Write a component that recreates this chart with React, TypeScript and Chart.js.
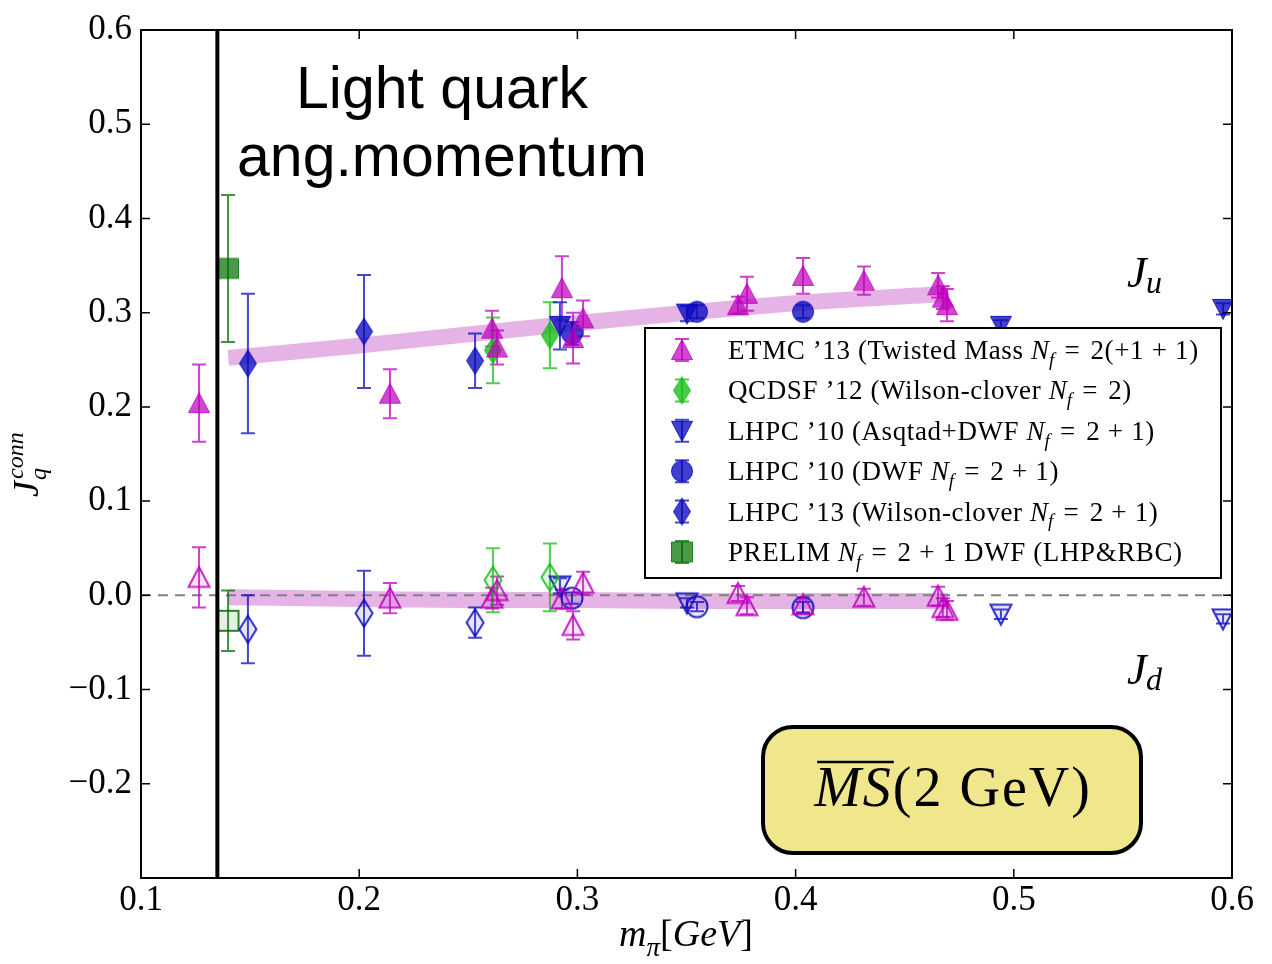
import React, { useEffect, useRef } from 'react';
import { Chart, registerables } from 'chart.js';
Chart.register(...registerables);

// ---------------- data ----------------
const xTickValues = [0.1, 0.2, 0.3, 0.4, 0.5, 0.6];
const yTickMin = -0.3;
const yTickMax = 0.6;
const physicalPionMass = 0.135;

// ETMC '13
const etmcX = [0.1266, 0.2141, 0.2609, 0.2632, 0.2929, 0.298, 0.3026, 0.3736, 0.3777, 0.4034, 0.4313, 0.4653, 0.4675, 0.4694];
const etmcJu = [0.204, 0.214, 0.283, 0.263, 0.326, 0.273, 0.294, 0.308, 0.320, 0.339, 0.334, 0.329, 0.316, 0.308];
const etmcJuErr = [0.041, 0.026, 0.019, 0.018, 0.034, 0.027, 0.019, 0.009, 0.018, 0.019, 0.015, 0.013, 0.012, 0.017];
const etmcJd = [0.019, -0.003, -0.003, 0.005, -0.004, -0.032, 0.013, 0.002, -0.011, -0.010, -0.002, -0.001, -0.013, -0.016];
const etmcJdErr = [0.032, 0.016, 0.011, 0.015, 0.010, 0.015, 0.012, 0.008, 0.009, 0.008, 0.009, 0.010, 0.010, 0.010];

// QCDSF '12
const qcdsfX = [0.2613, 0.2874];
const qcdsfJu = [0.260, 0.276];
const qcdsfJuErr = [0.035, 0.035];
const qcdsfJd = [0.016, 0.019];
const qcdsfJdErr = [0.034, 0.036];

// LHPC '10 Asqtad+DWF
const asqX = [0.292, 0.3502, 0.4941, 0.5959];
const asqJu = [0.286, 0.299, 0.286, 0.304];
const asqJuErr = [0.025, 0.008, 0.006, 0.006];
const asqJd = [0.010, -0.008, -0.020, -0.025];
const asqJdErr = [0.008, 0.005, 0.005, 0.005];

// LHPC '10 DWF
const dwfX = [0.2975, 0.3548, 0.4034];
const dwfJu = [0.278, 0.301, 0.301];
const dwfJuErr = [0.012, 0.007, 0.007];
const dwfJd = [-0.003, -0.012, -0.013];
const dwfJdErr = [0.006, 0.005, 0.006];

// LHPC '13 Wilson-clover
const lh13X = [0.149, 0.2022, 0.2531];
const lh13Ju = [0.246, 0.280, 0.249];
const lh13JuErr = [0.074, 0.060, 0.029];
const lh13Jd = [-0.036, -0.019, -0.029];
const lh13JdErr = [0.036, 0.045, 0.016];

// PRELIM
const prelimX = [0.1399];
const prelimJu = [0.347];
const prelimJuErr = [0.078];
const prelimJd = [-0.027];
const prelimJdErr = [0.032];

// fit bands
const bandUX = [0.14, 0.2, 0.25, 0.3, 0.35, 0.4, 0.47];
const bandUY = [0.252, 0.265, 0.277, 0.289, 0.300, 0.310, 0.320];
const bandDX = [0.14, 0.2, 0.25, 0.3, 0.35, 0.4, 0.47];
const bandDY = [-0.002, -0.004, -0.005, -0.005, -0.006, -0.006, -0.006];

// legend labels: 'r' roman, 'i' italic, 'sub' subscript, 'g' gap (em)
type Seg = [string, 'r' | 'i' | 'sub' | 'g'];
const NF: Seg[] = [['N', 'i'], ['f', 'sub'], ['0.38', 'g'], ['=', 'r'], ['0.38', 'g']];
const PLUS: Seg[] = [['0.28', 'g'], ['+', 'r'], ['0.28', 'g']];
const etmcLabel: Seg[] = [['ETMC \u201913 (Twisted Mass ', 'r'], ...NF, ['2(+1', 'r'], ...PLUS, ['1)', 'r']];
const qcdsfLabel: Seg[] = [['QCDSF \u201912 (Wilson-clover ', 'r'], ...NF, ['2)', 'r']];
const asqLabel: Seg[] = [['LHPC \u201910 (Asqtad+DWF ', 'r'], ...NF, ['2', 'r'], ...PLUS, ['1)', 'r']];
const dwfLabel: Seg[] = [['LHPC \u201910 (DWF ', 'r'], ...NF, ['2', 'r'], ...PLUS, ['1)', 'r']];
const lh13Label: Seg[] = [['LHPC \u201913 (Wilson-clover ', 'r'], ...NF, ['2', 'r'], ...PLUS, ['1)', 'r']];
const prelimLabel: Seg[] = [['PRELIM ', 'r'], ...NF, ['2', 'r'], ...PLUS, ['1 DWF (LHP&RBC)', 'r']];

const titleLines = ['Light quark', 'ang.momentum'];

// ---------------- styling ----------------
const SERIF = "'Liberation Serif', 'DejaVu Serif', serif";
const SANS = "'Liberation Sans', Arial, sans-serif";

type Shape = 'up' | 'down' | 'thin' | 'circle' | 'square';

const SERIES = [
  { x: etmcX, ju: etmcJu, juErr: etmcJuErr, jd: etmcJd, jdErr: etmcJdErr, rgb: '190,0,190', shape: 'up' as Shape, label: etmcLabel, a: 0.72 },
  { x: qcdsfX, ju: qcdsfJu, juErr: qcdsfJuErr, jd: qcdsfJd, jdErr: qcdsfJdErr, rgb: '20,190,20', shape: 'thin' as Shape, label: qcdsfLabel, a: 0.78 },
  { x: asqX, ju: asqJu, juErr: asqJuErr, jd: asqJd, jdErr: asqJdErr, rgb: '10,10,190', shape: 'down' as Shape, label: asqLabel, a: 0.78 },
  { x: dwfX, ju: dwfJu, juErr: dwfJuErr, jd: dwfJd, jdErr: dwfJdErr, rgb: '10,10,190', shape: 'circle' as Shape, label: dwfLabel, a: 0.78 },
  { x: lh13X, ju: lh13Ju, juErr: lh13JuErr, jd: lh13Jd, jdErr: lh13JdErr, rgb: '10,10,190', shape: 'thin' as Shape, label: lh13Label, a: 0.78 },
  { x: prelimX, ju: prelimJu, juErr: prelimJuErr, jd: prelimJd, jdErr: prelimJdErr, rgb: '0,110,0', shape: 'square' as Shape, label: prelimLabel, a: 0.7 },
];

function makeMarker(shape: Shape, fill: string, stroke: string, lw: number): HTMLCanvasElement {
  const c = document.createElement('canvas');
  c.width = 34;
  c.height = 34;
  const g = c.getContext('2d')!;
  g.translate(17, 17);
  g.beginPath();
  if (shape === 'up') {
    g.moveTo(0, -10.5); g.lineTo(10.5, 9.5); g.lineTo(-10.5, 9.5); g.closePath();
  } else if (shape === 'down') {
    g.moveTo(0, 10.5); g.lineTo(10.5, -9.5); g.lineTo(-10.5, -9.5); g.closePath();
  } else if (shape === 'thin') {
    g.moveTo(0, -13.5); g.lineTo(8.5, 0); g.lineTo(0, 13.5); g.lineTo(-8.5, 0); g.closePath();
  } else if (shape === 'circle') {
    g.arc(0, 0, 10.5, 0, Math.PI * 2);
  } else {
    g.rect(-10.5, -10, 21, 20);
  }
  g.fillStyle = fill;
  g.fill();
  g.lineWidth = lw;
  g.strokeStyle = stroke;
  g.stroke();
  return c;
}

function drawRich(ctx: CanvasRenderingContext2D, segs: Seg[], x: number, y: number, size: number, align: 'left' | 'center' = 'left', spacing = 0) {
  const fontFor = (s: string) =>
    s === 'r' || s === 'g' ? `${size}px ${SERIF}` : s === 'i' ? `italic ${size}px ${SERIF}` : `italic ${Math.round(size * 0.72)}px ${SERIF}`;
  const c: any = ctx;
  const widths = segs.map(([t, s]) => {
    if (s === 'g') return parseFloat(t) * size;
    ctx.font = fontFor(s);
    c.letterSpacing = s === 'r' ? `${spacing}px` : '0px';
    return ctx.measureText(t).width;
  });
  const total = widths.reduce((a, b) => a + b, 0);
  let cx = align === 'center' ? x - total / 2 : x;
  ctx.textAlign = 'left';
  ctx.textBaseline = 'alphabetic';
  segs.forEach(([t, s], i) => {
    if (s !== 'g') {
      ctx.font = fontFor(s);
      c.letterSpacing = s === 'r' ? `${spacing}px` : '0px';
      const dy = s === 'sub' ? size * 0.25 : 0;
      ctx.fillText(t, cx, y + dy);
    }
    cx += widths[i];
  });
  c.letterSpacing = '0px';
  return total;
}

function drawErrBar(ctx: CanvasRenderingContext2D, px: number, top: number, bot: number, color: string) {
  ctx.strokeStyle = color;
  ctx.lineWidth = 2;
  ctx.beginPath();
  ctx.moveTo(px, top); ctx.lineTo(px, bot);
  ctx.moveTo(px - 7, top); ctx.lineTo(px + 7, top);
  ctx.moveTo(px - 7, bot); ctx.lineTo(px + 7, bot);
  ctx.stroke();
}

export default function App() {
  const ref = useRef<HTMLCanvasElement>(null);
  useEffect(() => {
    const canvas = ref.current!;
    const markers = SERIES.map((s) => ({
      filled: makeMarker(s.shape, `rgba(${s.rgb},${s.a})`, `rgba(${s.rgb},${Math.min(1, s.a + 0.1)})`, 1),
      open: makeMarker(s.shape, `rgba(${s.rgb},0.1)`, `rgba(${s.rgb},0.85)`, 2),
    }));

    const datasets: any[] = [
      {
        type: 'line', isBand: true, data: bandUX.map((x, i) => ({ x, y: bandUY[i] })),
        borderColor: 'rgba(205,110,205,0.52)', borderWidth: 16, borderCapStyle: 'butt',
        pointRadius: 0, showLine: true, fill: false, cubicInterpolationMode: 'monotone', order: 10,
      },
      {
        type: 'line', isBand: true, data: bandDX.map((x, i) => ({ x, y: bandDY[i] })),
        borderColor: 'rgba(205,110,205,0.52)', borderWidth: 16, borderCapStyle: 'butt',
        pointRadius: 0, showLine: true, fill: false, cubicInterpolationMode: 'monotone', order: 10,
      },
    ];
    SERIES.forEach((s, k) => {
      datasets.push({
        data: s.x.map((x, i) => ({ x, y: s.ju[i] })),
        pointStyle: markers[k].filled, pointRadius: 10, order: 0,
      });
      datasets.push({
        data: s.x.map((x, i) => ({ x, y: s.jd[i] })),
        pointStyle: markers[k].open, pointRadius: 10, order: 0,
      });
    });

    let bandsDrawn = 0;
    const decor = {
      id: 'decor',
      beforeDatasetsDraw() { bandsDrawn = 0; },
      afterDatasetDraw(chart: any, args: any) {
        if (!chart.data.datasets[args.index].isBand) return;
        bandsDrawn++;
        if (bandsDrawn < 2) return;
        const ctx: CanvasRenderingContext2D = chart.ctx;
        const xs = chart.scales.x, ys = chart.scales.y;
        const area = chart.chartArea;
        ctx.save();
        // zero line
        ctx.strokeStyle = '#808080';
        ctx.lineWidth = 2;
        ctx.setLineDash([10, 7]);
        ctx.beginPath();
        const y0 = ys.getPixelForValue(0);
        ctx.moveTo(area.left, y0); ctx.lineTo(area.right, y0);
        ctx.stroke();
        ctx.setLineDash([]);
        // error bars
        SERIES.forEach((s) => {
          const col = `rgba(${s.rgb},0.75)`;
          s.x.forEach((x, i) => {
            const px = xs.getPixelForValue(x);
            drawErrBar(ctx, px, ys.getPixelForValue(s.ju[i] + s.juErr[i]), ys.getPixelForValue(s.ju[i] - s.juErr[i]), col);
            drawErrBar(ctx, px, ys.getPixelForValue(s.jd[i] + s.jdErr[i]), ys.getPixelForValue(s.jd[i] - s.jdErr[i]), col);
          });
        });
        ctx.restore();
      },
      afterDatasetsDraw(chart: any) {
        const ctx: CanvasRenderingContext2D = chart.ctx;
        const xs = chart.scales.x, ys = chart.scales.y;
        const a = chart.chartArea;
        ctx.save();
        // physical pion mass line
        const pxm = xs.getPixelForValue(physicalPionMass);
        ctx.strokeStyle = '#000';
        ctx.lineWidth = 4;
        ctx.beginPath();
        ctx.moveTo(pxm, a.top); ctx.lineTo(pxm, a.bottom);
        ctx.stroke();
        // frame
        ctx.lineWidth = 2;
        ctx.strokeRect(a.left, a.top, a.right - a.left, a.bottom - a.top);
        // ticks (inward, all sides)
        ctx.lineWidth = 1.5;
        ctx.beginPath();
        xTickValues.forEach((v) => {
          const p = xs.getPixelForValue(v);
          ctx.moveTo(p, a.bottom); ctx.lineTo(p, a.bottom - 9);
          ctx.moveTo(p, a.top); ctx.lineTo(p, a.top + 9);
        });
        ys.ticks.forEach((t: any) => {
          const p = ys.getPixelForValue(t.value);
          ctx.moveTo(a.left, p); ctx.lineTo(a.left + 9, p);
          ctx.moveTo(a.right, p); ctx.lineTo(a.right - 9, p);
        });
        ctx.stroke();

        // title text
        ctx.fillStyle = '#000';
        ctx.font = `59px ${SANS}`;
        ctx.textAlign = 'center';
        ctx.textBaseline = 'alphabetic';
        ctx.fillText(titleLines[0], 442, 108);
        ctx.fillText(titleLines[1], 442, 176);

        // J_u, J_d
        drawRich(ctx, [['J', 'i']], 1127, 287, 44);
        ctx.font = `italic 32px ${SERIF}`;
        ctx.textAlign = 'left';
        ctx.fillText('u', 1146, 293);
        drawRich(ctx, [['J', 'i']], 1127, 684, 44);
        ctx.font = `italic 32px ${SERIF}`;
        ctx.fillText('d', 1146, 690);

        // legend
        const lx = 645, ly = 328, lw = 576, lh = 250;
        ctx.fillStyle = '#fff';
        ctx.fillRect(lx, ly, lw, lh);
        ctx.strokeStyle = '#000';
        ctx.lineWidth = 2;
        ctx.strokeRect(lx, ly, lw, lh);
        SERIES.forEach((s, k) => {
          const ry = 350 + k * 40.4;
          drawErrBar(ctx, 682, ry - 11, ry + 11, `rgba(${s.rgb},0.75)`);
          const m = markers[k].filled;
          ctx.drawImage(m, 682 - m.width / 2, ry - m.height / 2);
          ctx.fillStyle = '#000';
          drawRich(ctx, s.label, 728, ry + 9, 27, 'left', 0.6);
        });

        // MS-bar box
        ctx.fillStyle = '#f0e68c';
        ctx.strokeStyle = '#000';
        ctx.lineWidth = 4;
        ctx.beginPath();
        (ctx as any).roundRect(763, 727, 378, 126, 30);
        ctx.fill();
        ctx.stroke();
        ctx.fillStyle = '#000';
        const c: any = ctx;
        c.letterSpacing = '2px';
        ctx.font = `italic 56px ${SERIF}`;
        const wMS = ctx.measureText('MS').width;
        ctx.font = `56px ${SERIF}`;
        const wRest = ctx.measureText('(2 GeV)').width;
        const startX = 953 - (wMS + wRest) / 2;
        ctx.textAlign = 'left';
        ctx.font = `italic 56px ${SERIF}`;
        ctx.fillText('MS', startX, 806);
        ctx.font = `56px ${SERIF}`;
        ctx.fillText('(2 GeV)', startX + wMS, 806);
        c.letterSpacing = '0px';
        ctx.lineWidth = 2.5;
        ctx.beginPath();
        ctx.moveTo(startX + 3, 762); ctx.lineTo(startX + wMS + 1, 762);
        ctx.stroke();

        // x-axis label
        drawRich(ctx, [['m', 'i'], ['\u03c0', 'sub'], ['[', 'r'], ['GeV', 'i'], [']', 'r']], 686, 946, 38, 'center');

        // y-axis label (rotated)
        ctx.save();
        ctx.translate(38, 497);
        ctx.rotate(-Math.PI / 2);
        ctx.font = `italic 36px ${SERIF}`;
        ctx.textAlign = 'left';
        ctx.fillText('J', 0, 0);
        const jw = ctx.measureText('J').width;
        ctx.font = `italic 24px ${SERIF}`;
        ctx.fillText('conn', jw + 2, -15);
        ctx.fillText('q', jw + 1, 8);
        ctx.restore();

        ctx.restore();
      },
    };

    const chart = new Chart(canvas, {
      type: 'scatter',
      data: { datasets },
      options: {
        animation: false,
        responsive: false,
        events: [],
        layout: { padding: { top: 29, right: 40, left: 0, bottom: 0 } },
        plugins: { legend: { display: false }, tooltip: { enabled: false } },
        scales: {
          x: {
            type: 'linear', min: xTickValues[0], max: xTickValues[xTickValues.length - 1],
            afterFit: (s: any) => { s.height = 86; },
            grid: { display: false, drawTicks: false }, border: { display: false },
            afterBuildTicks: (s: any) => { s.ticks = xTickValues.map((v) => ({ value: v })); },
            ticks: {
              color: '#000', font: { family: SERIF, size: 35 }, padding: 2, maxRotation: 0, autoSkip: false,
              callback: (v: any) => Number(v).toFixed(1),
            },
          },
          y: {
            type: 'linear', min: yTickMin, max: yTickMax,
            afterFit: (s: any) => { s.width = 141; },
            grid: { display: false, drawTicks: false }, border: { display: false },
            ticks: {
              stepSize: 0.1, color: '#000', font: { family: SERIF, size: 35 }, padding: 9, autoSkip: false,
              callback: (v: any) => {
                const n = Number(v);
                if (n < -0.25) return '';
                const str = Math.abs(n).toFixed(1);
                return n < -1e-9 ? '\u2212' + str : str;
              },
            },
          },
        },
      } as any,
      plugins: [decor],
    });
    return () => chart.destroy();
  }, []);
  return (
    <div style={{ position: 'fixed', left: 0, top: 0, width: 1272, height: 964, background: '#fff' }}>
      <canvas ref={ref} width={1272} height={964} style={{ display: 'block', width: 1272, height: 964 }} />
    </div>
  );
}
